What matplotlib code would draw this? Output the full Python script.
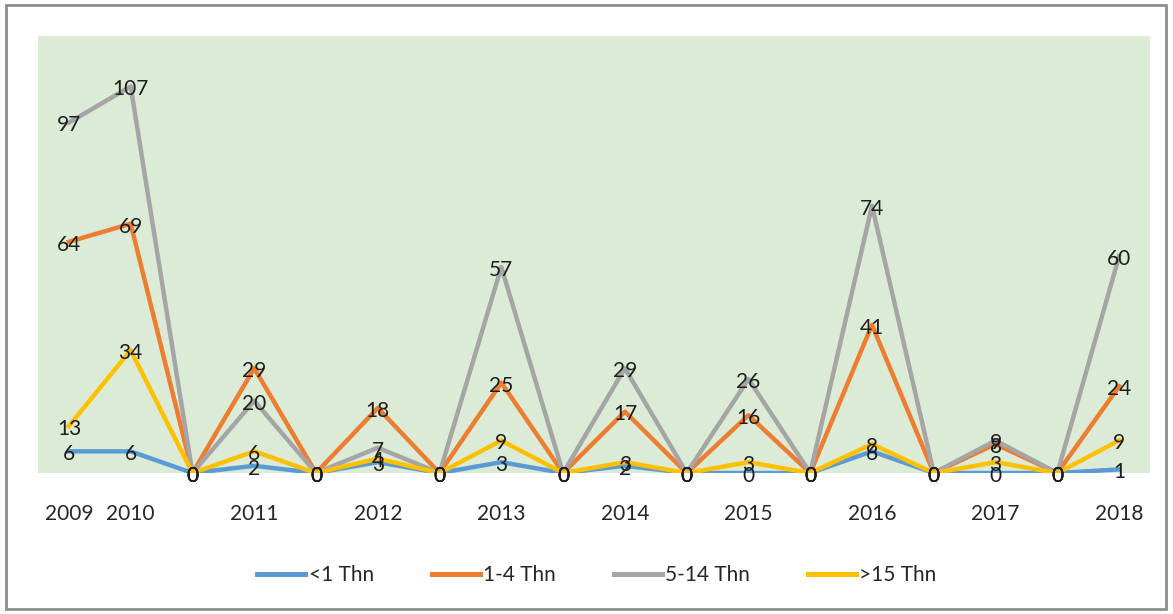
import matplotlib.pyplot as plt
from matplotlib.patches import Rectangle
import numpy as np

plt.rcParams['font.family'] = ['Lato', 'DejaVu Sans']

# categories (blank slots between years hold the 0 points)
labels = ['2009', '2010', '', '2011', '', '2012', '', '2013', '', '2014',
          '', '2015', '', '2016', '', '2017', '', '2018']

lt1 = [6, 6, 0, 2, 0, 3, 0, 3, 0, 2, 0, 0, 0, 6, 0, 0, 0, 1]
t1_4 = [64, 69, 0, 29, 0, 18, 0, 25, 0, 17, 0, 16, 0, 41, 0, 8, 0, 24]
t5_14 = [97, 107, 0, 20, 0, 7, 0, 57, 0, 29, 0, 26, 0, 74, 0, 9, 0, 60]
gt15 = [13, 34, 0, 6, 0, 4, 0, 9, 0, 3, 0, 3, 0, 8, 0, 3, 0, 9]

series_names = ['<1 Thn', '1-4 Thn', '5-14 Thn', '>15 Thn']
series_vals = [lt1, t1_4, t5_14, gt15]
colors = ['#5B9BD5', '#ED7D31', '#A5A5A5', '#FFC000']

fig = plt.figure(figsize=(11.73, 6.14), dpi=100)
ax = fig.add_axes([0.0324, 0.2296, 0.948, 0.712])
ax.set_facecolor('#DCEBD6')

x = np.arange(len(labels))
for name, vals, c in zip(series_names, series_vals, colors):
    ax.plot(x, vals, color=c, lw=3.2, label=name, solid_joinstyle='round')

# data labels, centered on the points
for vals in series_vals:
    for xi, v in zip(x, vals):
        ax.text(xi, v - 0.8, str(v), ha='center', va='center', fontsize=15,
                color='#1e1e1e', zorder=5)

ax.set_xlim(-0.5, len(labels) - 0.5)
ax.set_ylim(0, 121)
ax.set_xticks(x)
ax.set_xticklabels(labels, fontsize=15, color='#262626')
ax.tick_params(axis='x', length=0, pad=22)
ax.set_yticks([])
for s in ax.spines.values():
    s.set_visible(False)

leg = fig.legend(loc='center', bbox_to_anchor=(0.509, 0.063), ncol=4,
                 frameon=False, fontsize=15, handlelength=2.3,
                 columnspacing=2.8, handletextpad=0.15)
for t in leg.get_texts():
    t.set_color('#262626')
for h in leg.get_lines():
    h.set_linewidth(3.6)

# outer chart border
fig.patches.append(Rectangle((0.005, 0.008), 0.989, 0.984, transform=fig.transFigure,
                             fill=False, edgecolor='#8c8c8c', lw=2))

plt.savefig('out.png', dpi=100)
